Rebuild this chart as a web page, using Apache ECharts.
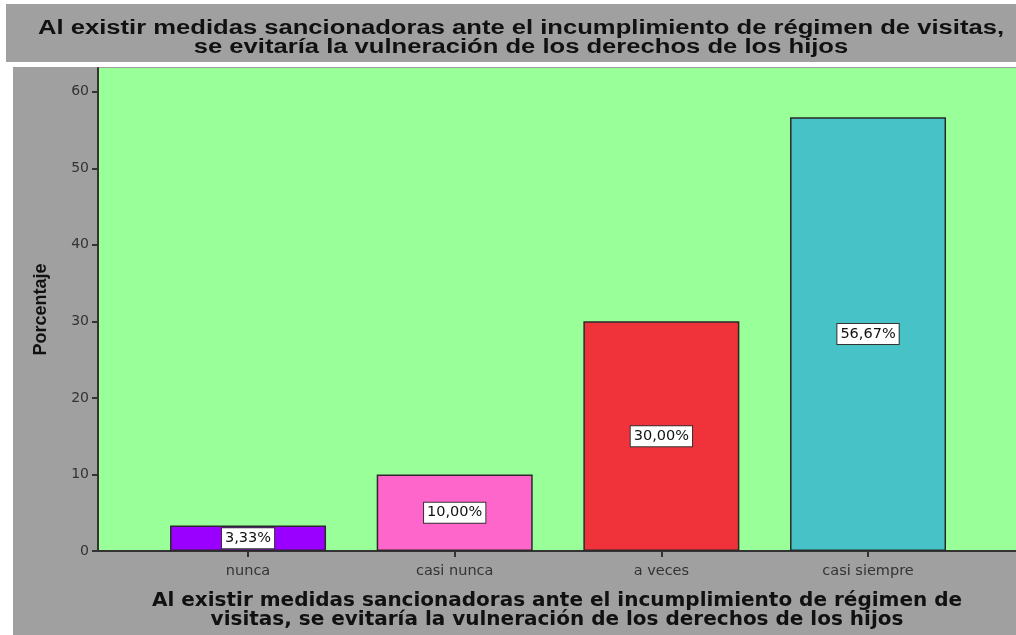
<!DOCTYPE html>
<html>
<head>
<meta charset="UTF-8">
<title>medidas sancionadoras</title>
<script src="https://cdn.jsdelivr.net/npm/echarts@6/dist/echarts.min.js"></script>
<style>
  html, body { margin: 0; padding: 0; background: #fff; }
  #main { width: 1016px; height: 635px; }
</style>
</head>
<body>
<div id="main"></div>
<script>
  // datos
  var categorias = ['nunca', 'casi nunca', 'a veces', 'casi siempre'];
  var porcentajes = [3.33, 10.00, 30.00, 56.67];
  var colores = ['#9900ff', '#ff66cc', '#f0323a', '#47c2c6'];
  var yTicks = [0, 10, 20, 30, 40, 50, 60];

  var titulo = 'Al existir medidas sancionadoras ante el incumplimiento de régimen de visitas,\nse evitaría la vulneración de los derechos de los hijos';
  var tituloX = 'Al existir medidas sancionadoras ante el incumplimiento de régimen de\nvisitas, se evitaría la vulneración de los derechos de los hijos';

  var myChart = echarts.init(document.getElementById('main'));

  var barras = porcentajes.map(function (v, i) {
    return {
      value: [i, v],
      itemStyle: { color: colores[i] }
    };
  });

  var option = {
    backgroundColor: '#ffffff',
    animation: false,
    graphic: [
      { type: 'rect', z: -10, shape: { x: 6, y: 4, width: 1010, height: 58 }, style: { fill: '#a0a0a0' } },
      { type: 'rect', z: -10, shape: { x: 13, y: 67, width: 1003, height: 568 }, style: { fill: '#a0a0a0' } },
      // titulo (la imagen original esta estirada a lo ancho)
      {
        type: 'text', x: 521, y: 38, scaleX: 1.28, z: 10,
        style: {
          text: titulo,
          textAlign: 'center',
          textVerticalAlign: 'middle',
          fontFamily: 'Liberation Sans',
          fontWeight: 'bold',
          fontSize: 20,
          lineHeight: 19,
          fill: '#111'
        }
      }
    ],
    grid: {
      left: 98, right: 0, top: 68, bottom: 84,
      show: true,
      backgroundColor: '#99ff99',
      borderWidth: 0
    },
    xAxis: {
      type: 'value',
      min: -0.726,
      max: 3.716,
      name: tituloX,
      nameLocation: 'middle',
      nameGap: 40,
      nameTextStyle: {
        fontFamily: 'DejaVu Sans',
        fontWeight: 'bold',
        fontSize: 20,
        lineHeight: 19,
        color: '#111'
      },
      splitLine: { show: false },
      axisLine: { show: true, lineStyle: { color: '#333', width: 2 } },
      axisTick: { show: true, length: 6, lineStyle: { color: '#333', width: 2 }, customValues: [0, 1, 2, 3] },
      axisLabel: {
        customValues: [0, 1, 2, 3],
        margin: 13,
        fontFamily: 'DejaVu Sans',
        fontSize: 14.5,
        color: '#333',
        formatter: function (v) { return categorias[Math.round(v)]; }
      }
    },
    yAxis: {
      type: 'value',
      min: 0,
      max: 63.1,
      interval: 10,
      name: 'Porcentaje',
      nameLocation: 'middle',
      nameGap: 48,
      nameTextStyle: {
        fontFamily: 'Liberation Sans',
        fontWeight: 'bold',
        fontSize: 18,
        color: '#111'
      },
      splitLine: { show: false },
      axisLine: { show: true, onZero: false, lineStyle: { color: '#333', width: 2 } },
      axisTick: { show: true, length: 6, lineStyle: { color: '#333', width: 2 } },
      axisLabel: {
        margin: 9,
        fontFamily: 'DejaVu Sans',
        fontSize: 14,
        color: '#333',
        showMaxLabel: false,
        formatter: function (v) { return yTicks.indexOf(v) >= 0 ? String(v) : ''; }
      }
    },
    series: [{
      type: 'bar',
      barWidth: 156,
      data: barras,
      itemStyle: { borderColor: '#2a2a2a', borderWidth: 1.5 },
      label: {
        show: true,
        position: 'inside',
        formatter: function (p) { return p.value[1].toFixed(2).replace('.', ',') + '%'; },
        fontFamily: 'DejaVu Sans',
        fontSize: 14.5,
        color: '#111',
        backgroundColor: '#ffffff',
        borderColor: '#333',
        borderWidth: 1,
        padding: [3, 3, 2, 3]
      }
    }]
  };

  myChart.setOption(option);
</script>
</body>
</html>
